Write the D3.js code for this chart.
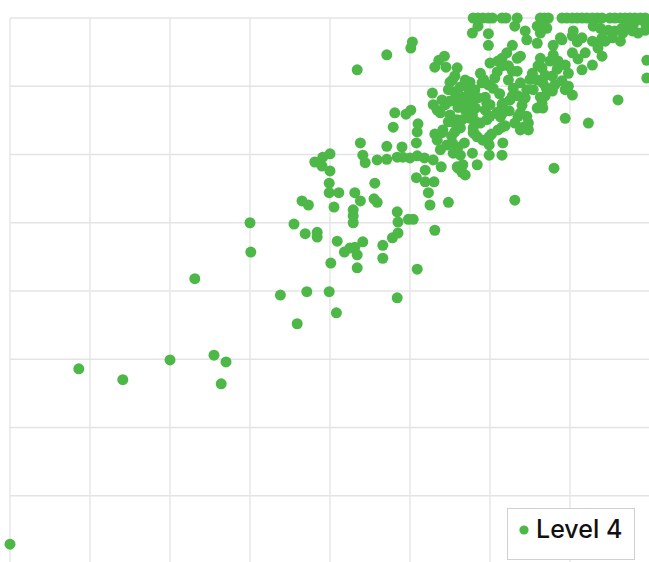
<!DOCTYPE html>
<html>
<head>
<meta charset="utf-8">
<script src="https://cdn.jsdelivr.net/npm/d3@7"></script>
<style>
  body { margin: 0; background: #fff; }
  svg { display: block; }
  .grid line { stroke: #e4e4e4; stroke-width: 1.3; }
  .legend text { font-family: Inter, "Noto Sans", sans-serif; font-size: 25px; font-weight: 500; fill: #111; }
</style>
</head>
<body>
<script>
var width = 649,
    height = 562;

var seriesName = "Level 4";

// x / y scores for each point
var level4X = [
  0, 8.6, 14.1, 20, 25.5, 27, 26.4, 23.1, 30, 30.1, 33.8, 37.1, 39.9, 35.9, 40.8, 48.4, 50.9,
  35.5, 36.9, 38.4, 38.4, 40.1, 40.9, 41.8, 43.1, 43.4, 44.1, 43.4, 46.6, 46.6, 47.8, 48.5, 53.1,
  48.4, 48.5, 49.8, 50.4, 42.9, 42.9, 42.9, 40.5, 36.5, 37.3, 43.1, 43.8, 45.5, 45.9, 52.3, 52.5,
  54.8, 63.1, 68, 42.5,
  38.1, 39.1, 40, 39, 40, 39.9, 39.9, 41.1, 45.6, 43.8, 44.1, 44.4, 45.9, 47.1, 47.1, 48.4, 49,
  49.1, 50, 50.9, 51.8, 52.9, 50.8, 51.9, 53, 51.9, 50.8, 50.9, 51, 50.1, 49.5, 48.1, 47.9,
  43.4, 47.1, 50.3, 50.1, 53.1, 53.6, 54.3, 54.5, 55.9, 55.3, 55.6, 54.8, 56.3, 52.8, 52.9, 53.4,
  55, 55.9, 53.1, 53.9, 55.9, 56.5, 56.9, 56, 56.6, 58.4, 57.8, 56.3, 55.4, 56, 54.6, 53.8, 54.1,
  53.4, 55.3, 54, 55.6, 56.3, 54.8, 55.6, 56.5, 56.9, 56.3, 53.8, 54.4, 54, 55, 55.6, 55.4, 57.5,
  57.1, 56.5, 57.9, 57.8, 57.3, 57.5, 57.5, 57.9, 57.9, 58.4, 58.8, 59.6, 59.1, 59.9, 59.9, 59.9,
  61.5, 61.6, 61, 61.5, 61.6, 61.6, 60.9, 61.3, 58.8, 59, 59.8, 60.4, 59.4, 59.6, 59.4, 58.1, 58.5,
  60, 61.5, 57.8, 58.1, 60, 63.5, 64.6, 64.8, 61.9, 56.9,
  57.9, 58.5, 59.1, 59.8, 60.3, 61.5, 62, 63.4, 66.3, 66.8, 67.3, 69, 69.6, 70.3, 70.9, 71.5,
  72.1, 72.8, 73.4, 74, 75, 75.6, 76.3, 76.9, 77.5, 78.1, 78.8, 79.4,
  57.8, 58.5, 59.8, 59.8, 63.1, 64.4, 64.6, 65.9, 66.3, 65.9, 67.1, 66.9, 67.9, 69, 70.4, 70.3,
  71.5, 72.9, 73.8, 74.8, 75.6, 76.5, 77.3, 77.8, 78.5, 79.4, 72.8, 73.4, 74, 74.4, 76.3, 79.6,
  79.6, 76, 74, 72.8, 70.3, 71.9, 71.5, 69.4, 72.3, 67.9, 67.5, 67.8, 68.1, 66.3, 66, 66.5, 66.9,
  65.3, 65.9, 66.6, 68.5, 69.4, 69.8, 69, 69.8, 70.3, 69.4, 67.8, 66.9, 66.5, 66.6, 65.9, 64.6,
  64.4, 63.5, 62.8, 63.4, 63.8, 61.5, 61, 61.5, 62.3, 62.8, 63.4, 62.3, 60, 62.8, 62.1, 60.9,
  63.8, 62.9, 62.5, 63.8, 63.1, 64.1, 64.8, 66.3, 65.4, 70.9, 68.8, 73.5, 75.3, 76.6, 77.9, 79.4,
  78.4, 63.8, 58.1,
  54.9, 56.0, 57.0, 58.2, 59.2, 60.6, 61.2, 64.0, 65.0, 67.0, 68.4, 71.0, 55.2, 60.2, 62.4, 56.8
];

var level4Y = [
  2.9, 28.6, 27.0, 29.9, 30.6, 29.6, 26.4, 41.8, 50.0, 45.7, 39.4, 39.9, 39.9, 35.2, 36.8, 39.0, 43.2,
  49.8, 48.4, 48.6, 47.9, 44.1, 47.3, 45.7, 46.4, 45.3, 47.2, 43.4, 46.7, 44.8, 47.8, 48.5, 48.9,
  51.6, 50.1, 50.5, 50.5, 51.9, 51.0, 50.0, 52.3, 53.2, 52.6, 54.4, 53.2, 53.5, 53.0, 54.4, 52.6,
  53.0, 53.3, 58.0, 46.3,
  58.9, 59.6, 60.1, 58.3, 57.6, 55.8, 54.4, 54.4, 55.8, 61.7, 59.9, 58.8, 59.2, 61.2, 59.3, 59.6, 61.1,
  59.6, 59.5, 59.8, 59.5, 59.2, 56.6, 56.0, 56.0, 57.7, 61.7, 63.3, 64.5, 66.5, 65.9, 66.1, 64.0,
  72.4, 74.6, 76.5, 75.6, 72.8, 73.8, 74.4, 72.8, 72.7, 70.9, 71.5, 69.5, 69.9, 69.0, 67.3, 66.5,
  65.8, 65.1, 63.0, 58.2, 58.2, 57.4, 57.0, 58.0, 58.5, 58.5, 60.2, 59.9, 60.2, 61.1, 61.4, 60.7, 63.6,
  62.1, 61.7, 63.2, 63.3, 63.9, 64.8, 64.6, 65.1, 66.5, 67.5, 66.1, 67.3, 68.0, 70.6, 69.2, 68.0, 70.6,
  69.9, 68.4, 68.0, 67.0, 68.7, 66.1, 65.3, 63.9, 63.2, 62.6, 64.6, 65.1, 62.1, 62.6, 61.4, 59.9,
  59.9, 61.7, 63.6, 64.0, 66.1, 67.5, 66.2, 65.5, 71.9, 70.5, 70.2, 69.7, 68.4, 67.5, 66.5, 69.5, 68.3,
  67.3, 67.3, 65.8, 64.9, 65.6, 65.6, 65.6, 64.6, 64.2, 70.9,
  80, 80, 80, 80, 80, 80, 80, 80, 80, 80, 80, 80, 80, 80, 80, 80,
  80, 80, 80, 80, 80, 80, 80, 80, 80, 80, 80, 80,
  77.8, 78.8, 77.7, 76.0, 78.8, 78.1, 76.8, 78.8, 77.8, 76.3, 78.5, 79.6, 76.0, 76.8, 78.1, 77.4,
  77.1, 78.8, 78.5, 78.2, 78.1, 78.5, 78.8, 78.1, 77.8, 78.2, 76.6, 76.3, 77.1, 76.6, 76.6, 73.8,
  71.2, 68.0, 74.4, 73.1, 74.9, 74.9, 72.4, 65.3, 64.6, 74.6, 73.7, 71.5, 70.2, 74.1, 73.0, 72.7, 71.6,
  71.9, 70.9, 70.5, 73.7, 73.1, 71.9, 70.8, 70.0, 68.7, 69.5, 69.3, 68.6, 67.5, 66.8, 66.8, 69.5,
  68.3, 68.6, 68.6, 74.1, 74.4, 74.1, 73.7, 73.0, 73.0, 72.2, 72.2, 70.9, 73.4, 76.0, 74.9, 72.1,
  70.5, 69.7, 68.0, 66.1, 64.6, 64.0, 63.6, 68.4, 69.5, 76.5, 77.1, 75.6, 77.1, 77.8, 79.0, 79.3,
  79.7, 63.6, 63.0,
  67.8, 66.9, 67.8, 66.8, 71.0, 71.2, 68.9, 67.2, 71.0, 69.8, 72.5, 74.0, 62.7, 63.0, 66.4, 61.7
];

var xTicks = [0, 10, 20, 30, 40, 50, 60, 70, 80];
var yTicks = [0, 10, 20, 30, 40, 50, 60, 70, 80];

var points = level4X.map(function(x, i) { return {x: x, y: level4Y[i]}; });

var x = d3.scaleLinear().domain([0, 80]).range([10, 650]);
var y = d3.scaleLinear().domain([0, 80]).range([564, 18]);

var svg = d3.select("body").append("svg")
    .attr("width", width)
    .attr("height", height);

var grid = svg.append("g").attr("class", "grid");

grid.selectAll(".vline").data(xTicks)
  .enter().append("line")
    .attr("class", "vline")
    .attr("x1", d => x(d)).attr("x2", d => x(d))
    .attr("y1", y(80)).attr("y2", y(0));

grid.selectAll(".hline").data(yTicks)
  .enter().append("line")
    .attr("class", "hline")
    .attr("x1", x(0)).attr("x2", x(80))
    .attr("y1", d => y(d)).attr("y2", d => y(d));

svg.append("g").attr("class", "points")
    .selectAll("circle").data(points)
  .enter().append("circle")
    .attr("cx", d => x(d.x))
    .attr("cy", d => y(d.y))
    .attr("r", 5.5)
    .attr("fill", "#4db848");

// legend box, bottom right
var legend = svg.append("g").attr("class", "legend")
    .attr("transform", "translate(507,508)");

legend.append("rect")
    .attr("x", 0.5).attr("y", 0.5)
    .attr("width", 127).attr("height", 51)
    .attr("fill", "#fff")
    .attr("stroke", "#d0d0d0");

legend.append("circle")
    .attr("cx", 17).attr("cy", 22)
    .attr("r", 4.6)
    .attr("fill", "#4db848");

legend.append("text")
    .attr("x", 29).attr("y", 30)
    .text(seriesName);
</script>
</body>
</html>
